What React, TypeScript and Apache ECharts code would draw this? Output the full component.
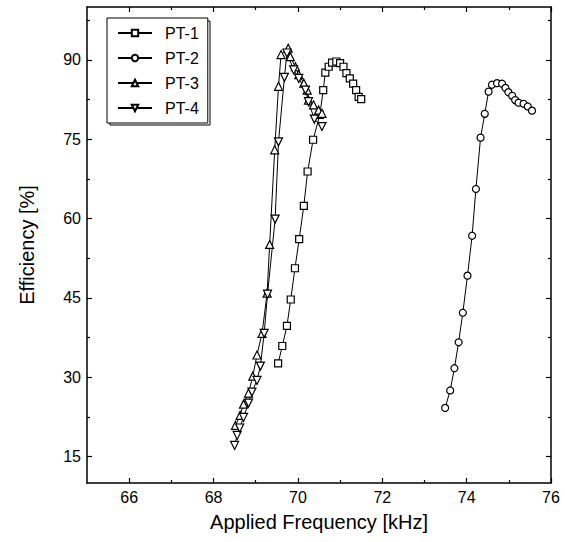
import React, { useEffect, useRef } from "react";
import * as echarts from "echarts";

const seriesNames = ["PT-1", "PT-2", "PT-3", "PT-4"];

const pt1: [number, number][] = [
  [69.53, 32.6], [69.63, 35.9], [69.74, 39.7], [69.83, 44.7], [69.93, 50.6],
  [70.03, 56.1], [70.14, 62.4], [70.23, 68.9], [70.36, 74.9], [70.52, 79.6],
  [70.6, 84.3], [70.65, 87.6], [70.73, 88.7], [70.81, 89.5], [70.91, 89.7],
  [71.0, 89.4], [71.08, 88.7], [71.15, 87.5], [71.23, 86.5], [71.31, 85.5],
  [71.38, 84.3], [71.44, 83.0], [71.5, 82.6],
];

const pt2: [number, number][] = [
  [73.49, 24.2], [73.61, 27.5], [73.71, 31.7], [73.81, 36.6], [73.91, 42.2],
  [74.02, 49.2], [74.13, 56.75], [74.22, 65.6], [74.33, 75.3], [74.43, 79.8],
  [74.52, 84.0], [74.6, 85.3], [74.72, 85.6], [74.84, 85.5], [74.92, 84.7],
  [74.99, 83.9], [75.08, 83.2], [75.15, 82.4], [75.23, 81.9], [75.35, 81.7],
  [75.45, 81.2], [75.55, 80.4],
];

const pt3: [number, number][] = [
  [68.52, 20.9], [68.63, 22.8], [68.71, 24.9], [68.83, 27.0], [68.93, 30.2],
  [69.03, 34.2], [69.15, 38.3], [69.27, 45.9], [69.33, 55.1], [69.45, 73.0],
  [69.54, 85.0], [69.6, 91.0], [69.77, 92.2], [69.82, 90.6], [69.94, 88.7],
  [70.02, 87.2], [70.14, 85.6], [70.22, 84.3], [70.25, 82.4], [70.37, 81.5],
  [70.49, 80.5], [70.57, 79.9],
];

const pt4: [number, number][] = [
  [68.5, 17.1], [68.56, 19.0], [68.62, 20.4], [68.71, 22.4], [68.83, 25.1],
  [68.91, 27.2], [69.03, 29.4], [69.11, 32.1], [69.2, 38.3], [69.28, 45.7],
  [69.46, 59.9], [69.54, 74.5], [69.68, 86.7], [69.74, 91.3], [69.9, 88.1],
  [70.02, 86.5], [70.18, 84.3], [70.25, 82.1], [70.39, 78.8], [70.57, 77.4],
];

const xMajorTicks = [66, 68, 70, 72, 74, 76];
const xMinorTicks = [67, 69, 71, 73, 75];
const yMajorTicks = [15, 30, 45, 60, 75, 90];
const yMinorTicks = [22.5, 37.5, 52.5, 67.5, 82.5, 97.5];

const X_MIN = 65;
const X_MAX = 76;
const Y_MIN = 10;
const Y_MAX = 100;

const FONT = "Liberation Sans, Arial, Helvetica, sans-serif";

function axis(
  gridIndex: number,
  position: string,
  min: number,
  max: number,
  ticks: number[],
  tickLen: number,
  showLine: boolean,
  labels: number[] | null,
  extra: any = {}
) {
  return {
    type: "value",
    gridIndex,
    position,
    min,
    max,
    splitLine: { show: false },
    axisLine: { show: showLine, onZero: false, lineStyle: { color: "#000", width: 1.5 } },
    axisTick: {
      show: true,
      inside: true,
      length: tickLen,
      customValues: ticks,
      lineStyle: { color: "#000", width: 1.2 },
    },
    axisLabel: labels
      ? {
          show: true,
          customValues: labels,
          color: "#000",
          fontSize: 16,
          fontFamily: FONT,
          margin: 6,
        }
      : { show: false },
    ...extra,
  };
}

const markerStyle = { color: "#fff", borderColor: "#000", borderWidth: 1.2 };
const lineStyle = { color: "#000", width: 1 };

export default function App() {
  const ref = useRef<HTMLDivElement>(null);

  useEffect(() => {
    if (!ref.current) return;
    const chart = echarts.init(ref.current, undefined, { renderer: "svg" });
    const gridPos = { left: 87, right: 14, top: 7, bottom: 59, containLabel: false };
    const option: any = {
      animation: false,
      backgroundColor: "#fff",
      textStyle: { fontFamily: FONT },
      grid: [gridPos, { ...gridPos }],
      xAxis: [
        axis(0, "bottom", X_MIN, X_MAX, xMajorTicks, 5, true, xMajorTicks, {
          name: "Applied Frequency [kHz]",
          nameLocation: "middle",
          nameGap: 29,
          nameTextStyle: { color: "#000", fontSize: 20, fontFamily: FONT },
        }),
        axis(0, "top", X_MIN, X_MAX, xMajorTicks, 5, true, null),
        axis(1, "bottom", X_MIN, X_MAX, xMinorTicks, 3, false, null),
        axis(1, "top", X_MIN, X_MAX, xMinorTicks, 3, false, null),
      ],
      yAxis: [
        axis(0, "left", Y_MIN, Y_MAX, yMajorTicks, 5, true, yMajorTicks, {
          name: "Efficiency [%]",
          nameLocation: "middle",
          nameGap: 50,
          nameTextStyle: { color: "#000", fontSize: 20, fontFamily: FONT },
        }),
        axis(0, "right", Y_MIN, Y_MAX, yMajorTicks, 5, true, null),
        axis(1, "left", Y_MIN, Y_MAX, yMinorTicks, 3, false, null),
        axis(1, "right", Y_MIN, Y_MAX, yMinorTicks, 3, false, null),
      ],
      legend: {
        data: seriesNames,
        orient: "vertical",
        left: 107,
        top: 18,
        itemWidth: 34,
        itemHeight: 8,
        itemGap: 5,
        padding: [5, 9, 5, 10],
        backgroundColor: "#fff",
        borderColor: "#000",
        borderWidth: 1,
        textStyle: {
          fontSize: 16,
          color: "#000",
          fontFamily: FONT,
          lineHeight: 20,
          padding: [0, 0, 0, 8],
        },
      },
      graphic: [
        {
          type: "rect",
          z: 1,
          shape: { x: 110, y: 21, width: 100, height: 104 },
          style: { fill: "none", stroke: "#000", lineWidth: 1 },
        },
      ],
      series: [
        { name: "PT-1", data: pt1, symbol: "rect", symbolSize: 7 },
        { name: "PT-2", data: pt2, symbol: "circle", symbolSize: 7 },
        { name: "PT-3", data: pt3, symbol: "triangle", symbolSize: 8 },
        { name: "PT-4", data: pt4, symbol: "triangle", symbolSize: 8, symbolRotate: 180 },
      ].map((s) => ({
        ...s,
        type: "line",
        xAxisIndex: 0,
        yAxisIndex: 0,
        showAllSymbol: true,
        lineStyle,
        itemStyle: markerStyle,
        emphasis: { disabled: true },
        z: 3,
      })),
    };
    chart.setOption(option);
    return () => chart.dispose();
  }, []);

  return (
    <div
      ref={ref}
      style={{ position: "fixed", left: 0, top: 0, width: 565, height: 542, background: "#fff" }}
    />
  );
}
